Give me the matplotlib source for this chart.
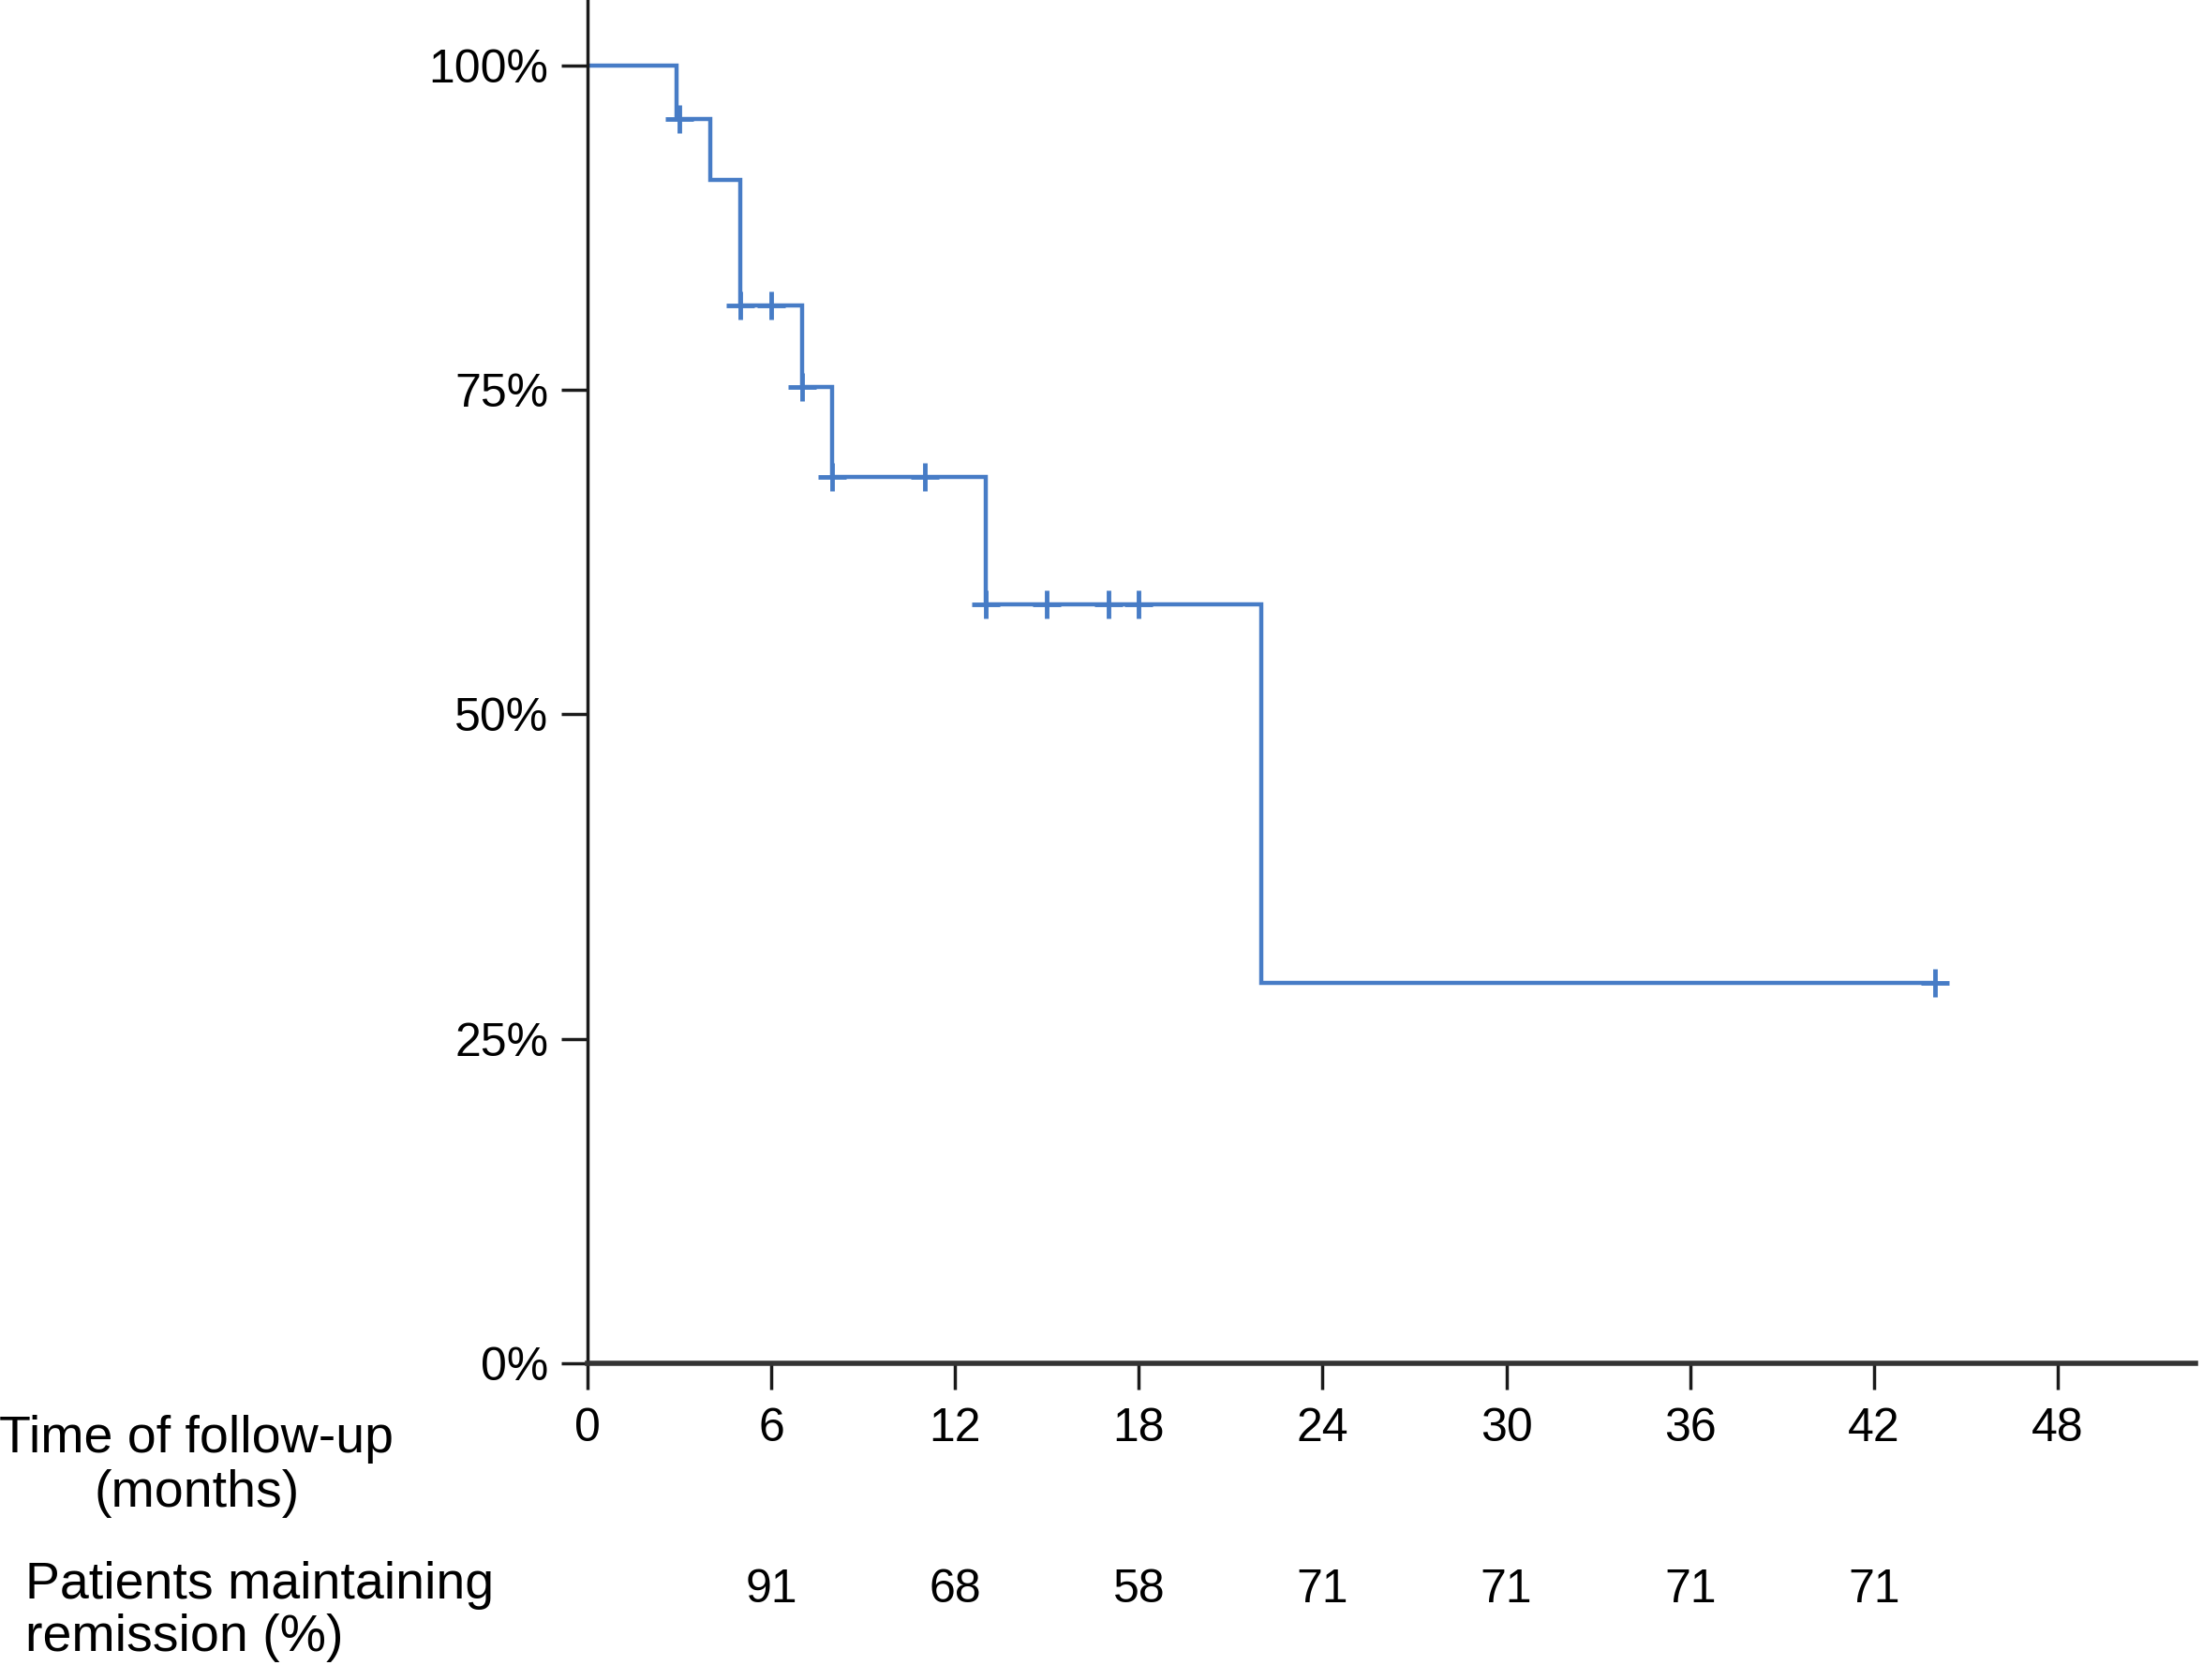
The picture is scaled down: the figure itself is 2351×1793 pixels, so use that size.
import numpy as np
import matplotlib
matplotlib.use("Agg")
import matplotlib.pyplot as plt
import matplotlib.transforms as mtransforms

plt.rcParams['font.family'] = ['Liberation Sans', 'DejaVu Sans']

# Kaplan-Meier step data (months, % in remission)
step_times = [0, 2.9, 4.0, 5.0, 7.0, 8.0, 13.0, 22.0]
step_surv = [100, 95.9, 91.2, 81.5, 75.2, 68.3, 58.5, 29.3]
end_time = 44.0

# censored observations (months)
censor_times = [3.0, 5.0, 6.0, 7.0, 8.0, 11.0, 13.0, 15.0, 17.0, 18.0, 44.0]

# table under the axis
x_ticks = [0, 6, 12, 18, 24, 30, 36, 42, 48]
y_ticks = [0, 25, 50, 75, 100]
y_ticklabels = ['0%', '25%', '50%', '75%', '100%']
rem_months = [6, 12, 18, 24, 30, 36, 42]
rem_pct = [91, 68, 58, 71, 71, 71, 71]

blue = '#477cc6'
fs = 36      # tick labels / numbers
fs_cap = 40  # left captions

fig = plt.figure(figsize=(23.51, 17.93), dpi=100)
ax = fig.add_axes([0.2667, 0.1885, 0.7299, 0.8115])

# survival curve
xs = list(step_times) + [end_time]
ys = list(step_surv) + [step_surv[-1]]
ax.step(xs, ys, where='post', color=blue, lw=3.2, solid_joinstyle='miter')

# censor marks, heights looked up on the step curve
idx = np.searchsorted(step_times, censor_times, side='right') - 1
censor_surv = np.array(step_surv)[idx]
ax.plot(censor_times, censor_surv, '+', color=blue, ms=22, mew=3.5)

ax.set_xlim(0, 52.5)
ax.set_ylim(0, 105.05)
ax.set_xticks(x_ticks)
ax.set_yticks(y_ticks)
ax.set_yticklabels(y_ticklabels)

for s in ['top', 'right']:
    ax.spines[s].set_visible(False)
ax.spines['left'].set_linewidth(2.5)
ax.spines['left'].set_color('#1a1a1a')
ax.spines['bottom'].set_linewidth(4)
ax.spines['bottom'].set_color('#333333')
ax.tick_params(axis='x', direction='out', length=20, width=2.5, pad=14,
               labelsize=fs, color='#1a1a1a')
ax.tick_params(axis='y', direction='out', length=20, width=2.5, pad=10,
               labelsize=fs, color='#1a1a1a')

# left side captions
fig.text(0.0893, 0.1355, 'Time of follow-up', ha='center', va='baseline', fontsize=fs_cap)
fig.text(0.0893, 0.1032, '(months)', ha='center', va='baseline', fontsize=fs_cap)
fig.text(0.0115, 0.0485, 'Patients maintaining', ha='left', va='baseline', fontsize=fs_cap)
fig.text(0.0115, 0.0173, 'remission (%)', ha='left', va='baseline', fontsize=fs_cap)

# remission row, aligned to the month axis
trans = mtransforms.blended_transform_factory(ax.transData, fig.transFigure)
for m, p in zip(rem_months, rem_pct):
    ax.text(m, 0.0463, str(p), transform=trans, ha='center', va='baseline',
            fontsize=fs, clip_on=False)

fig.savefig('out.png', dpi=100)
